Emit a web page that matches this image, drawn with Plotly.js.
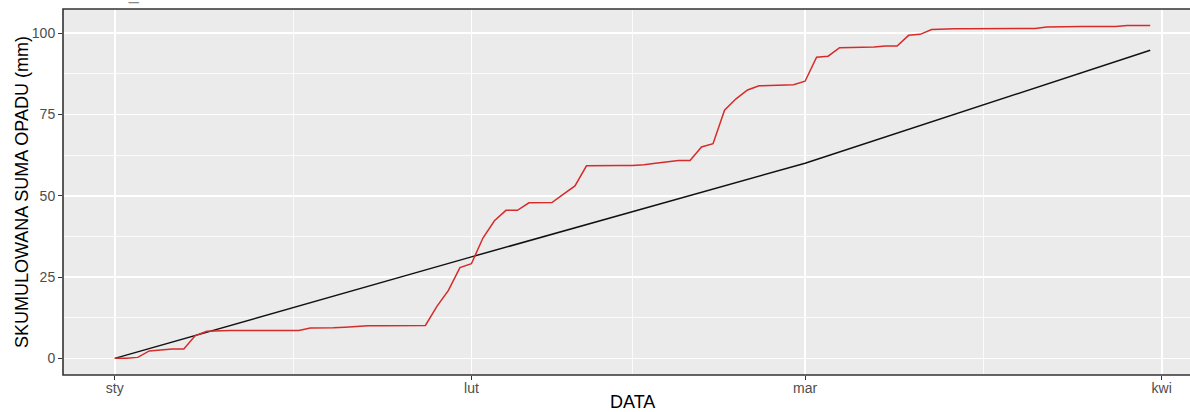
<!DOCTYPE html>
<html>
<head>
<meta charset="utf-8">
<script src="https://cdn.plot.ly/plotly-3.0.1.min.js"></script>
<style>
  html, body { margin: 0; padding: 0; overflow: hidden; background: #ffffff; }
  #chart { width: 1212px; height: 412px; }
</style>
</head>
<body>
<div id="chart"></div>
<script>
// ---- DATA ----
const startDate = '2024-01-01';
// cumulative observed precipitation (mm), one value per day from 1 Jan to 31 Mar 2024
const cumObserved = [
  0, 0, 0.3, 2.3, 2.6, 2.9, 2.9, 7.0, 8.3, 8.5,
  8.6, 8.6, 8.6, 8.6, 8.6, 8.6, 8.6, 9.3, 9.3, 9.4,
  9.6, 9.9, 10.0, 10.0, 10.0, 10.0, 10.0, 10.1, 16.0, 20.9,
  27.9, 29.1, 37.0, 42.3, 45.5, 45.5, 47.8, 47.8, 47.9, 50.5,
  53.0, 59.2, 59.3, 59.3, 59.3, 59.3, 59.5, 60.0, 60.5, 60.8,
  60.8, 65.0, 66.0, 76.3, 79.8, 82.5, 83.8, 83.9, 83.9, 84.1,
  85.2, 92.6, 92.9, 95.5, 95.6, 95.6, 95.7, 96.0, 96.0, 99.3,
  99.6, 101.1, 101.3, 101.3, 101.3, 101.3, 101.3, 101.3, 101.3, 101.4,
  101.4, 101.9, 102.0, 102.0, 102.0, 102.0, 102.0, 102.0, 102.3, 102.3,
  102.3
];
// cumulative climatological norm (mm)
const normDates = ['2024-01-01', '2024-02-01', '2024-03-01', '2024-03-31'];
const normValues = [0, 31.2, 60.0, 94.7];

const monthTickDates = ['2024-01-01', '2024-02-01', '2024-03-01', '2024-04-01'];
const monthTickLabels = ['sty', 'lut', 'mar', 'kwi'];
const minorTickDates = ['2024-01-16 12:00', '2024-02-15', '2024-03-16 12:00'];
const yTicks = [0, 25, 50, 75, 100];

const xTitle = 'DATA';
const yTitle = 'SKUMULOWANA SUMA OPADU (mm)';
const topTitle = 'STACJA_SYNOPTYCZNA';

// build daily dates
function addDays(iso, n) {
  const d = new Date(iso + 'T00:00:00Z');
  d.setUTCDate(d.getUTCDate() + n);
  return d.toISOString().slice(0, 10);
}
const obsDates = cumObserved.map((_, i) => addDays(startDate, i));

const traces = [
  {
    x: normDates, y: normValues, type: 'scatter', mode: 'lines',
    line: { color: '#111111', width: 1.5 }, hoverinfo: 'skip'
  },
  {
    x: obsDates, y: cumObserved, type: 'scatter', mode: 'lines',
    line: { color: '#d62b2b', width: 1.5 }, hoverinfo: 'skip'
  }
];

const layout = {
  width: 1212, height: 412,
  margin: { l: 63, r: 10, t: 9, b: 37 },
  paper_bgcolor: '#ffffff',
  plot_bgcolor: '#ebebeb',
  showlegend: false,
  font: { family: 'Liberation Sans, Arial, sans-serif', color: '#4d4d4d' },
  xaxis: {
    type: 'date',
    range: ['2023-12-27 12:00', '2024-04-04 12:00'],
    tickmode: 'array', tickvals: monthTickDates, ticktext: monthTickLabels,
    ticks: 'outside', ticklen: 4, tickwidth: 1, tickcolor: '#333333',
    ticklabelstandoff: -4,
    tickfont: { size: 14, color: '#4d4d4d' },
    showgrid: true, gridcolor: '#ffffff', gridwidth: 1.6,
    minor: { tickmode: 'array', tickvals: minorTickDates, showgrid: true, gridcolor: '#ffffff', gridwidth: 0.8, ticks: '' },
    showline: false,
    zeroline: false
  },
  yaxis: {
    range: [-5.115, 107.4],
    tickmode: 'array', tickvals: yTicks,
    ticks: 'outside', ticklen: 4, tickwidth: 1, tickcolor: '#333333',
    tickfont: { size: 14, color: '#4d4d4d' },
    showgrid: true, gridcolor: '#ffffff', gridwidth: 1.6,
    minor: { tick0: 0, dtick: 12.5, showgrid: true, gridcolor: '#ffffff', gridwidth: 0.8, ticks: '' },
    showline: false,
    zeroline: false
  },
  shapes: [
    {
      type: 'rect', xref: 'paper', yref: 'paper', x0: 0, x1: 1, y0: 0, y1: 1,
      line: { color: '#333333', width: 1.6 }, fillcolor: 'rgba(0,0,0,0)', layer: 'above'
    }
  ],
  annotations: [
    {
      text: xTitle, xref: 'paper', yref: 'paper', x: 0.5, y: 0,
      xanchor: 'center', yanchor: 'top', yshift: -15, showarrow: false,
      font: { size: 18, color: '#000000' }
    },
    {
      text: yTitle, xref: 'paper', yref: 'paper', x: 0, y: 0.5,
      xanchor: 'center', yanchor: 'middle', xshift: -41, textangle: -90, showarrow: false,
      font: { size: 18, color: '#000000' }
    },
    {
      text: topTitle, xref: 'paper', yref: 'paper', x: 0, y: 1,
      xanchor: 'left', yanchor: 'bottom', xshift: -4, yshift: 3, showarrow: false,
      font: { size: 18, color: '#888888' }
    }
  ]
};

Plotly.newPlot('chart', traces, layout, { staticPlot: true, displayModeBar: false });
</script>
</body>
</html>
